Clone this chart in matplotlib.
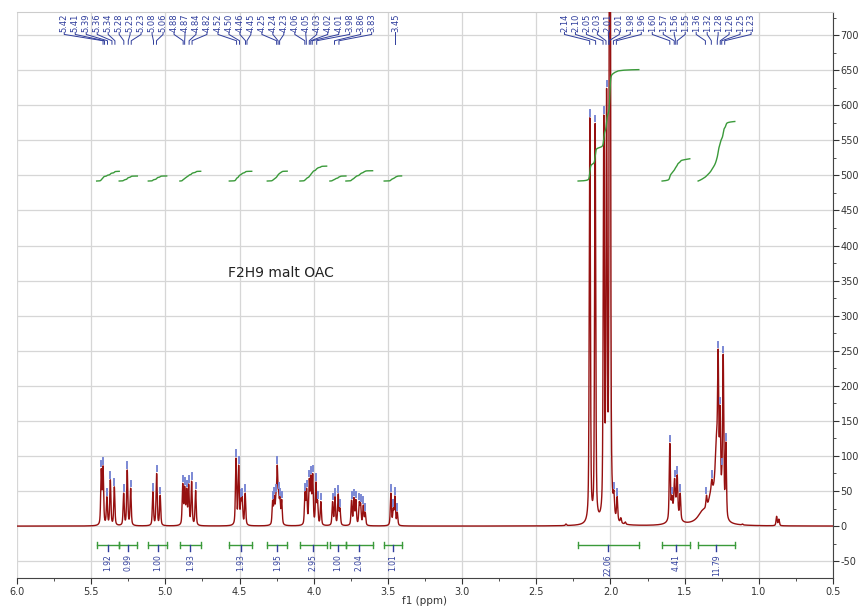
import numpy as np
import matplotlib.pyplot as plt
from matplotlib.ticker import MultipleLocator, FormatStrFormatter

plt.rcParams["axes.unicode_minus"] = False

# sharp lines: position (ppm) and apparent height
peak_ppm = [5.432, 5.420, 5.394, 5.371, 5.344, 5.281, 5.257, 5.234,
            5.084, 5.059, 5.035,
            4.883, 4.870, 4.857, 4.843, 4.823, 4.796,
            4.524, 4.506, 4.491, 4.482, 4.462,
            4.277, 4.266, 4.255, 4.246, 4.237, 4.228, 4.216,
            4.059, 4.048, 4.030, 4.019, 4.007, 3.985, 3.974, 3.952,
            3.873, 3.857, 3.835, 3.823,
            3.745, 3.729, 3.716, 3.693, 3.684, 3.666, 3.653,
            3.480, 3.464, 3.453, 3.437,
            2.300, 2.161, 2.139, 2.103, 2.070, 2.045, 2.026, 2.004, 1.977, 1.955, 1.930, 1.900,
            1.600, 1.586, 1.568, 1.550, 1.530,
            1.353, 1.317, 1.274, 1.261, 1.249, 1.240, 1.222,
            1.110, 0.880, 0.865]
peak_height = [82, 86, 42, 66, 56, 47, 80, 54,
               49, 75, 44,
               61, 57, 54, 60, 64, 51,
               97, 87, 40, 42, 47,
               37, 44, 47, 87, 51, 42, 38,
               49, 54, 68, 73, 75, 63, 37, 35,
               35, 42, 46, 26,
               37, 41, 38, 35, 33, 30, 20,
               47, 26, 43, 20,
               3, 9, 582, 574, 13, 586, 624, 1500, 51, 42, 12, 6,
               118, 44, 68, 73, 47,
               44, 67, 252, 172, 85, 245, 120,
               3, 14, 10]

# broad humps under the aliphatic multiplets
hump_ppm = [1.565, 1.38, 1.32, 1.285]
hump_height = [30, 15, 35, 100]
hump_width = [0.02, 0.04, 0.025, 0.012]

# peak-pick labels along the top
top_labels = ["5.42", "5.41", "5.39", "5.36", "5.34", "5.28", "5.25", "5.23",
              "5.08", "5.06", "4.88", "4.87", "4.84", "4.82", "4.52", "4.50",
              "4.46", "4.45", "4.25", "4.24", "4.23", "4.06", "4.05", "4.03",
              "4.02", "4.01", "3.98", "3.86", "3.83", "3.45",
              "2.14", "2.10", "2.05", "2.03", "2.01", "2.01", "1.98", "1.96",
              "1.60", "1.57", "1.56", "1.55", "1.36", "1.32", "1.28", "1.26",
              "1.25", "1.23"]

# integral regions (ppm) and values
int_start = [5.463, 5.311, 5.115, 4.902, 4.569, 4.313, 4.093, 3.891, 3.783, 3.525, 2.218, 1.652, 1.409]
int_end = [5.311, 5.189, 4.991, 4.762, 4.418, 4.179, 3.913, 3.783, 3.603, 3.408, 1.809, 1.465, 1.162]
int_value = [1.92, 0.99, 1.00, 1.93, 1.93, 1.95, 2.95, 1.00, 2.04, 1.01, 22.06, 4.41, 11.79]

RED = "#961010"
BLUE = "#2f3d9c"
GREEN = "#3a9a3a"
W = 0.0045
ETA = 0.5


def shape(x, x0, w):
    u = (x - x0) / w
    return ETA / (1 + u ** 2) + (1 - ETA) * np.exp(-np.log(2) * u ** 2)


def humps(x):
    x = np.asarray(x, dtype=float)
    out = np.zeros_like(x)
    for p, h, w in zip(hump_ppm, hump_height, hump_width):
        out += h / (1 + ((x - p) / w) ** 2)
    return out


def spread(pos, gap):
    # keep neighbouring labels at least `gap` apart, as close as possible to their peaks
    blocks = []
    for i, p in enumerate(pos):
        blocks.append([p + i * gap, 1])
        while len(blocks) > 1 and blocks[-2][0] / blocks[-2][1] < blocks[-1][0] / blocks[-1][1]:
            s, n = blocks.pop()
            blocks[-1][0] += s
            blocks[-1][1] += n
    z = []
    for s, n in blocks:
        z += [s / n] * n
    return [v - i * gap for i, v in enumerate(z)]


pk = np.array(peak_ppm)
A = shape(pk[:, None], pk[None, :], W)
amp = np.clip(np.linalg.solve(A, np.array(peak_height) - humps(pk)), 0, None)

ppm = np.linspace(6.0, 0.5, 22001)
spec = humps(ppm)
for p, a in zip(pk, amp):
    spec += a * shape(ppm, p, W)

fig = plt.figure(figsize=(8.61, 6.07), dpi=100)
ax = fig.add_axes([17 / 861, 1 - 578 / 607, 816 / 861, 566 / 607])

ax.plot(ppm, spec, color=RED, lw=1.0, zorder=3)

# peak pick marks
top = np.interp(pk[::-1], ppm[::-1], spec[::-1])[::-1]
for p, h, t in zip(peak_ppm, peak_height, top):
    if 20 <= h < 700:
        ax.plot([p, p], [t + 3, t + 11], color="#7b88d4", lw=1.4, zorder=4)

# labels with connectors
pos = [float(s) for s in top_labels]
lab_x = spread(pos, 0.074)
for s, p, lx in zip(top_labels, pos, lab_x):
    ax.plot([lx, lx, p, p], [704, 701, 692, 687], color=BLUE, lw=0.7, clip_on=False, zorder=5)
    ax.text(lx, 705, s, rotation=90, ha="center", va="bottom", fontsize=6,
            color=BLUE, clip_on=False)

# integrals
for a, b, v in zip(int_start, int_end, int_value):
    m = (ppm <= a) & (ppm >= b)
    c = np.cumsum(spec[m])
    c = c / c[-1]
    ax.plot(ppm[m], 492 + 7.2 * v * c, color=GREEN, lw=1.0, zorder=4)
    ax.plot([a, b], [-27, -27], color=GREEN, lw=1.0)
    ax.plot([a, a], [-31, -23], color=GREEN, lw=1.0)
    ax.plot([b, b], [-31, -23], color=GREEN, lw=1.0)
    mid = (a + b) / 2
    ax.plot([mid, mid], [-27, -36], color=BLUE, lw=1.0)
    ax.text(mid, -40, "%.2f" % v, rotation=90, ha="center", va="top", fontsize=5.5, color=BLUE)

ax.text(4.578, 361, "F2H9 malt OAC", ha="left", va="center", fontsize=10, color="#222222")

ax.set_xlim(6.0, 0.5)
ax.set_ylim(-74, 733)
ax.xaxis.set_major_locator(MultipleLocator(0.5))
ax.xaxis.set_minor_locator(MultipleLocator(0.25))
ax.xaxis.set_major_formatter(FormatStrFormatter("%.1f"))
ax.yaxis.tick_right()
ax.set_yticks(np.arange(-50, 701, 50))
ax.yaxis.set_minor_locator(MultipleLocator(25))
ax.tick_params(axis="both", labelsize=7, colors="#333333", length=4, pad=1.5)
ax.tick_params(axis="both", which="minor", length=2.5, colors="#333333")
ax.tick_params(axis="x", pad=2.5)
ax.set_xlabel("f1 (ppm)", fontsize=7.5, color="#333333", labelpad=-1)
ax.grid(True, which="major", color="#d6d6d6", lw=0.9)
ax.set_axisbelow(True)
ax.spines["left"].set_visible(False)
ax.spines["top"].set_color("#cccccc")
ax.spines["right"].set_color("#444444")
ax.spines["bottom"].set_color("#444444")

fig.savefig("out.png", dpi=100)
